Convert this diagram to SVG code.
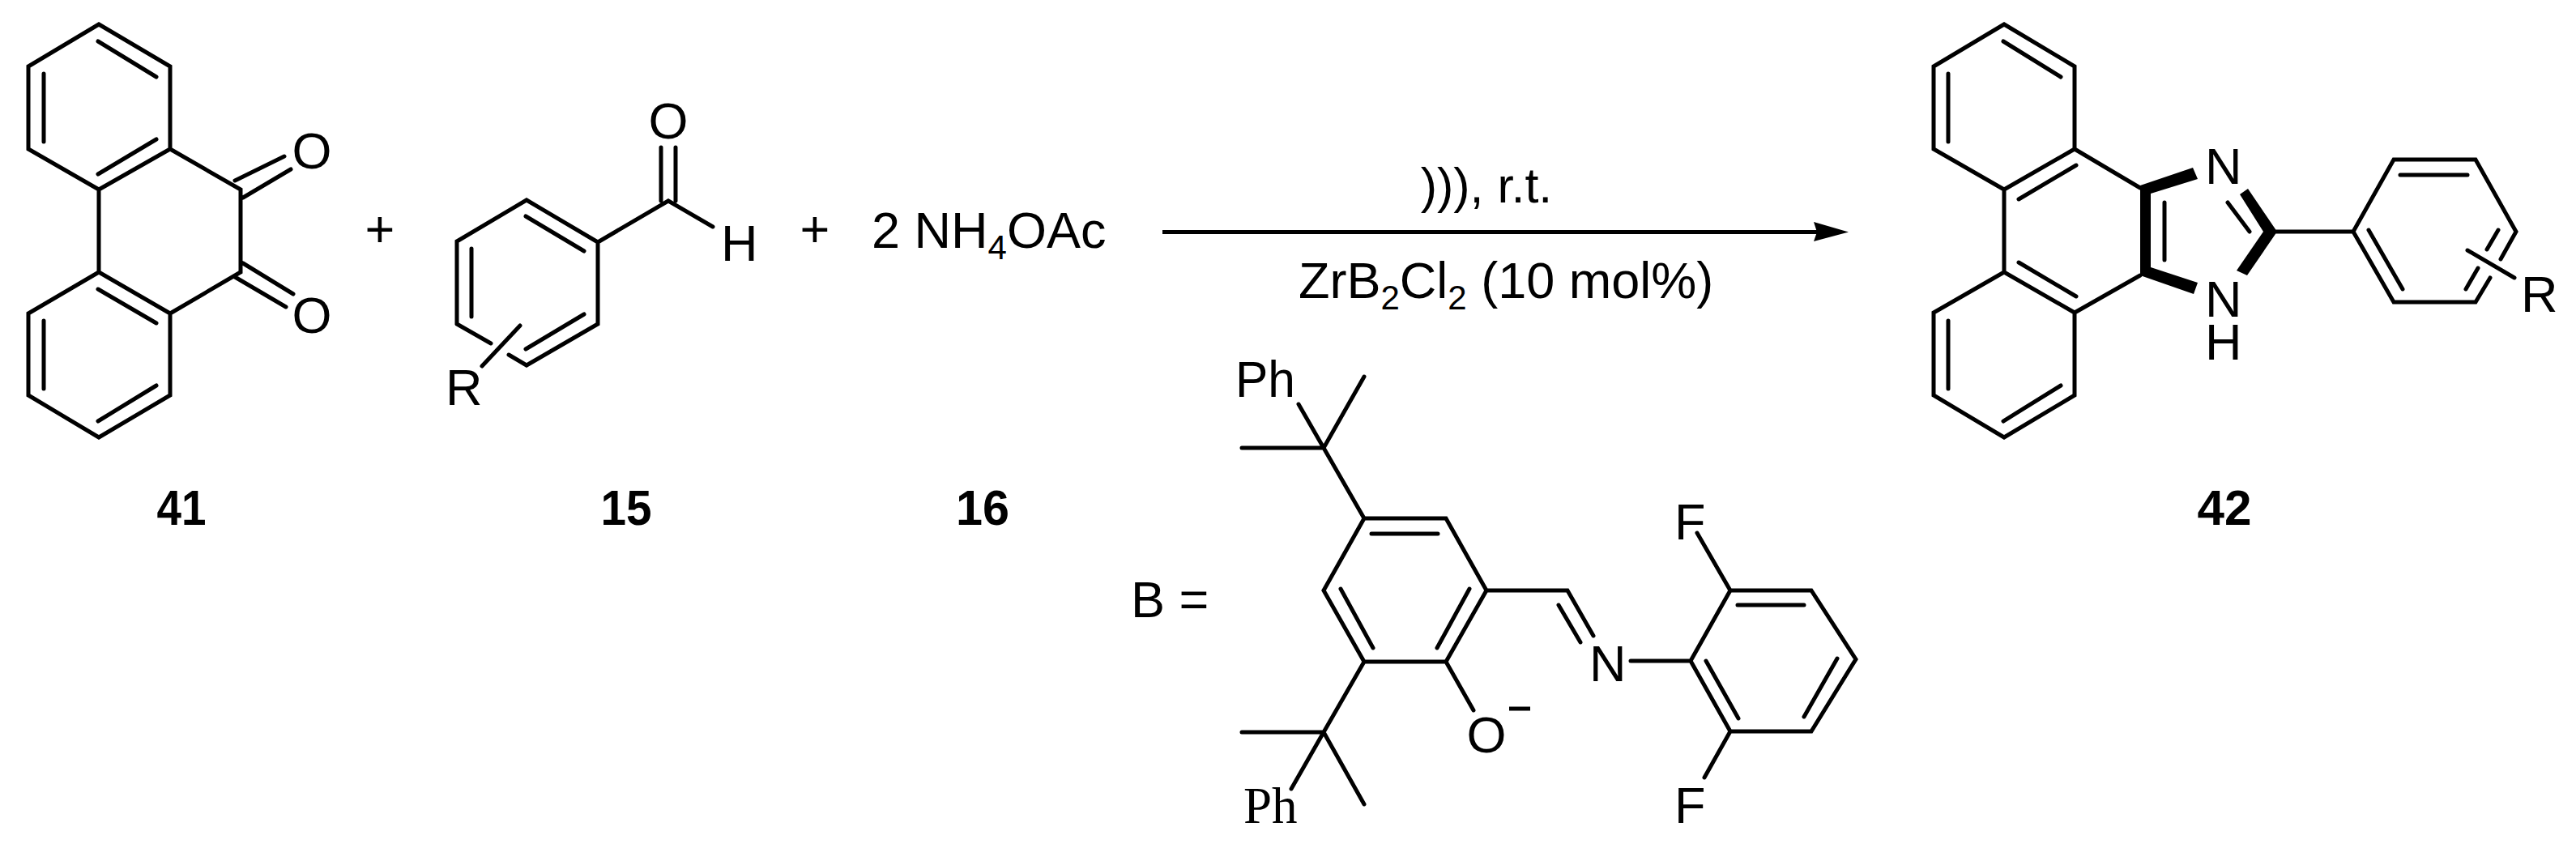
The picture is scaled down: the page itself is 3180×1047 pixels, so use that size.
<svg xmlns="http://www.w3.org/2000/svg" width="3180" height="1047" viewBox="0 0 3180 1047">
<style>
path{fill:none;stroke:#000;stroke-width:5;stroke-linecap:round;stroke-linejoin:miter}
.b{fill:#000;stroke:none}
text{font-family:"Liberation Sans",Arial,sans-serif;font-size:63px;fill:#000}
.n{font-weight:bold;text-anchor:middle;font-size:61px}
.s{font-size:42px}
.a{text-anchor:middle}
</style>
<rect width="3180" height="1047" fill="#fff"/>
<g id="compound-41">
<path d="M122 30L210 82V184L122 234L35 184V82ZM121 51L193 95M54 91V175M121 215L193 172M210 184L297 234V336L210 387L122 336V234M122 336L35 387V488L122 540L210 488V387M121 357L193 399M54 396V480M121 520L193 476M290 223L351 193M300 244L359 209M290 342L353 379M300 325L362 363"/>
<text class="a" x="385" y="208">O</text><text class="a" x="385" y="411">O</text>
<text class="n" x="224" y="648" textLength="61" lengthAdjust="spacingAndGlyphs">41</text>
</g>
<g id="plus-1"><text class="a" x="469" y="305">+</text></g>
<g id="compound-15">
<path d="M564 400V298L650 247L738 299V400L650 451L628 438M606 424L564 400M649 267L721 310M582 307V391M649 431L721 388M738 299L825 248L880 280M816 182V248M834 182V248M642 402L595 452"/>
<text class="a" x="825" y="171">O</text><text x="890" y="322">H</text><text x="550" y="500">R</text>
<text class="n" x="773" y="648" textLength="63" lengthAdjust="spacingAndGlyphs">15</text>
</g>
<g id="plus-2"><text class="a" x="1006" y="305">+</text></g>
<g id="compound-16">
<text x="1076" y="306">2 NH<tspan class="s" dy="14">4</tspan><tspan dy="-14">OAc</tspan></text>
<text class="n" x="1213" y="648" textLength="66" lengthAdjust="spacingAndGlyphs">16</text>
</g>
<g id="connectors">
<path d="M1435 286.500H2245" style="stroke-linecap:butt"/>
<path class="b" d="M2282 286.500L2239 274L2243 286.500L2239 298Z"/>
</g>
<g id="conditions">
<text class="a" x="1835" y="250" style="font-size:61px">))), r.t.</text>
<text x="1603" y="368">ZrB<tspan class="s" dy="14">2</tspan><tspan dy="-14">Cl</tspan><tspan class="s" dy="14">2</tspan><tspan dy="-14"> (10 mol%)</tspan></text>
</g>
<g id="compound-42">
<path d="M2474 30L2561 82V184L2474 234L2387 184V82ZM2473 51L2544 95M2405 91V175M2492 246L2563 204M2561 184L2642 232M2474 234V336L2561 386L2642 340M2492 324L2563 366M2474 336L2387 386V488L2474 540L2561 488V386M2405 396V480M2473 520L2544 476M2672 250V321M2750 250L2777 286M2810 286H2905L2955 197H3056L3106 286L3087 320M3074 343L3056 373H2955L2905 286M2963 216H3046M2924 284L2966 357M3084 284L3070 308M3059 331L3044 357M3046 309L3104 343"/>
<path class="b" d="M2642 229L2707 207L2713 221L2655 239V330L2713 349L2708 363L2642 340ZM2765 240L2775 233L2811 286L2774 340L2761 334L2794 286Z"/>
<text x="2722" y="227">N</text><text x="2722" y="391">N</text><text x="2722" y="444">H</text><text x="3112" y="385">R</text>
<text class="n" x="2746" y="648" textLength="67" lengthAdjust="spacingAndGlyphs">42</text>
</g>
<g id="ligand-B">
<text x="1396" y="762">B =</text>
<path d="M1684 640H1785L1835 729L1785 817H1684L1634 729ZM1693 659H1775M1655 727L1695 800M1814 727L1774 800M1684 640L1634 553M1634 553L1684 465M1634 553L1603 499M1634 553H1533M1684 817L1634 904H1533M1634 904L1684 993M1634 904L1594 974M1785 817L1819 877M1835 729H1935L1967 785M1924 747L1951 793M2013 816H2087L2136 729H2236L2291 814L2236 903H2136L2087 816M2145 747H2227M2106 816L2146 887M2268 813L2227 885M2136 729L2095 658M2136 903L2104 960"/>
<text x="1525" y="490" textLength="74" lengthAdjust="spacingAndGlyphs">Ph</text>
<text x="1535" y="1016" style="font-family:'Liberation Serif',serif">Ph</text>
<text class="a" x="1835" y="929">O</text>
<path d="M1863 875H1889" style="stroke-linecap:butt"/>
<text x="1962" y="841">N</text><text x="2067" y="666">F</text><text x="2067" y="1016">F</text>
</g>
</svg>
